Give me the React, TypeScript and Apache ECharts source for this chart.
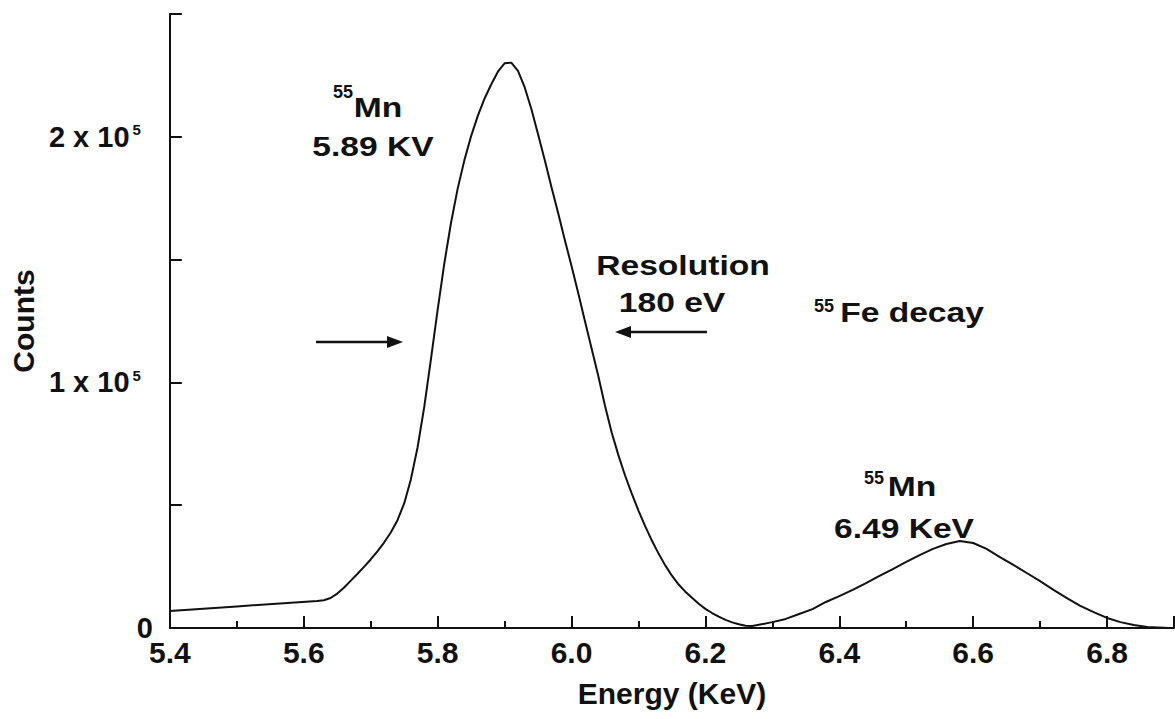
import React, { useEffect, useRef } from "react";
import * as echarts from "echarts";

// Energy (KeV) and counts
const energy = [
  5.4, 5.5, 5.62, 5.63, 5.64, 5.65, 5.66, 5.67, 5.68, 5.69, 5.7, 5.71, 5.72, 5.73,
  5.74, 5.75, 5.76, 5.77, 5.78, 5.79, 5.8, 5.81, 5.82, 5.83, 5.84, 5.85, 5.86, 5.87,
  5.88, 5.89, 5.9, 5.91, 5.92, 5.93, 5.94, 5.95, 5.96, 5.97, 5.98, 5.99, 6.0, 6.01,
  6.02, 6.03, 6.04, 6.05, 6.06, 6.07, 6.08, 6.09, 6.1, 6.11, 6.12, 6.13, 6.14, 6.15,
  6.16, 6.17, 6.18, 6.19, 6.2, 6.21, 6.22, 6.23, 6.24, 6.25, 6.26, 6.27, 6.28, 6.3,
  6.32, 6.34, 6.36, 6.38, 6.4, 6.42, 6.44, 6.46, 6.48, 6.5, 6.52, 6.54, 6.56, 6.58,
  6.6, 6.62, 6.64, 6.66, 6.68, 6.7, 6.72, 6.74, 6.76, 6.78, 6.8, 6.82, 6.84, 6.86,
  6.893,
];
const counts = [
  6900, 8800, 11000, 11300, 12200, 14000, 16400, 19200, 22000, 24900, 27900, 31200,
  34800, 38900, 43900, 50700, 60500, 73500, 90000, 109500, 129500, 148500, 165000,
  179000, 190500, 200300, 208500, 215500, 221300, 226500, 229900, 230200, 226800,
  220200, 211300, 201000, 190600, 179600, 169000, 158000, 147400, 136400, 125000,
  113800, 102600, 90500, 79600, 70400, 62100, 54700, 47800, 41500, 35600, 30300,
  25500, 21300, 17700, 14800, 12300, 9900, 7800, 6100, 4600, 3300, 2300, 1500, 900,
  800, 1300, 2400, 3700, 5700, 7700, 10600, 13000, 15500, 18300, 21200, 24000, 26900,
  29700, 32200, 34200, 35400, 34600, 32200, 28900, 25700, 22400, 19100, 15500, 12200,
  9000, 6500, 4100, 2400, 1200, 400, 0,
];

const xTickValues = [5.4, 5.6, 5.8, 6.0, 6.2, 6.4, 6.6, 6.8];
const xTickLabels = ["5.4", "5.6", "5.8", "6.0", "6.2", "6.4", "6.6", "6.8"];
const yTickValues = [0, 100000, 200000];
const yTickLabels = ["0", "1 x 10{s|5}", "2 x 10{s|5}"];

const FONT = "'Liberation Sans', Arial, Helvetica, sans-serif";
const INK = "#111111";

function txt(text: string, x: number, y: number, size: number, scaleX = 1.2) {
  return {
    type: "text",
    x,
    y,
    scaleX,
    silent: true,
    style: {
      text,
      fontSize: size,
      fontWeight: "bold",
      fontFamily: FONT,
      fill: INK,
      align: "center",
      verticalAlign: "middle",
      textAlign: "center",
      textVerticalAlign: "middle",
    },
  };
}

function arrow(x1: number, x2: number, y: number) {
  // arrow from x1 to x2 (head at x2)
  const dir = x2 > x1 ? 1 : -1;
  const headLen = 16;
  return [
    {
      type: "line",
      silent: true,
      shape: { x1, y1: y, x2: x2 - dir * (headLen - 2), y2: y },
      style: { stroke: INK, lineWidth: 2.5 },
    },
    {
      type: "polygon",
      silent: true,
      shape: {
        points: [
          [x2, y],
          [x2 - dir * headLen, y - 6],
          [x2 - dir * headLen, y + 6],
        ],
      },
      style: { fill: INK },
    },
  ];
}

export default function App() {
  const ref = useRef<HTMLDivElement>(null);

  useEffect(() => {
    if (!ref.current) return;
    const chart = echarts.init(ref.current, null, { renderer: "svg" });
    const data = energy.map((e, i) => [e, counts[i]]);

    chart.setOption({
      animation: false,
      backgroundColor: "#ffffff",
      grid: { left: 163, right: 1, top: 14, bottom: 91, containLabel: false },
      xAxis: {
        type: "value",
        min: 5.4,
        max: 6.9,
        interval: 0.2,
        name: "Energy (KeV)",
        nameLocation: "middle",
        nameGap: 50,
        nameTextStyle: { fontSize: 30, fontWeight: "bold", fontFamily: FONT, color: INK },
        axisLine: { show: true, lineStyle: { color: INK, width: 2 } },
        axisTick: { show: true, inside: true, length: 12, lineStyle: { color: INK, width: 2 } },
        minorTick: { show: true, splitNumber: 2, length: 7, lineStyle: { color: INK, width: 2 } },
        splitLine: { show: false },
        minorSplitLine: { show: false },
        axisLabel: {
          margin: 9,
          fontSize: 30,
          fontWeight: "bold",
          fontFamily: FONT,
          color: INK,
          showMaxLabel: false,
          formatter: (v: number) => {
            const i = xTickValues.findIndex((t) => Math.abs(t - v) < 1e-6);
            return i >= 0 ? xTickLabels[i] : "";
          },
        },
      },
      yAxis: {
        type: "value",
        min: 0,
        max: 250000,
        interval: 50000,
        name: "Counts",
        nameLocation: "middle",
        nameRotate: 90,
        nameGap: 128,
        nameTextStyle: { fontSize: 30, fontWeight: "bold", fontFamily: FONT, color: INK },
        axisLine: { show: true, lineStyle: { color: INK, width: 2 } },
        axisTick: { show: true, inside: true, length: 12, lineStyle: { color: INK, width: 2 } },
        splitLine: { show: false },
        axisLabel: {
          margin: 17,
          fontSize: 29,
          fontWeight: "bold",
          fontFamily: FONT,
          color: INK,
          formatter: (v: number) => {
            const i = yTickValues.findIndex((t) => Math.abs(t - v) < 1e-6);
            return i >= 0 ? yTickLabels[i] : "";
          },
          rich: {
            s: {
              fontSize: 15,
              fontWeight: "bold",
              fontFamily: FONT,
              color: INK,
              verticalAlign: "top",
              padding: [0, 12, 14, 3],
            },
          },
        },
      },
      series: [
        {
          type: "line",
          data,
          showSymbol: false,
          smooth: false,
          lineStyle: { color: INK, width: 2, join: "round", cap: "round" },
          silent: true,
        },
      ],
      graphic: [
        txt("55", 343, 92, 18, 1),
        txt("Mn", 378, 107, 28),
        txt("5.89 KV", 373, 146, 28),
        txt("Resolution", 683, 265, 28),
        txt("180 eV", 672, 302, 28),
        txt("55", 824, 306, 18, 1),
        txt("Fe decay", 912, 312, 28),
        txt("55", 874, 478, 18, 1),
        txt("Mn", 912, 486, 28),
        txt("6.49 KeV", 904, 528, 28),
        ...arrow(316, 403, 342),
        ...arrow(707, 615, 332),
      ],
    });

    return () => chart.dispose();
  }, []);

  return (
    <div
      ref={ref}
      style={{ position: "fixed", left: 0, top: 0, width: 1175, height: 719, background: "#fff" }}
    />
  );
}
